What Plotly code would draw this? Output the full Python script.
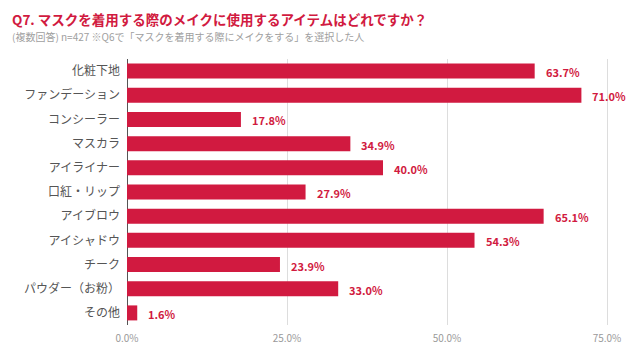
import plotly.graph_objects as go

categories = ["化粧下地", "ファンデーション", "コンシーラー", "マスカラ", "アイライナー",
              "口紅・リップ", "アイブロウ", "アイシャドウ", "チーク", "パウダー（お粉）", "その他"]
values = [63.7, 71.0, 17.8, 34.9, 40.0, 27.9, 65.1, 54.3, 23.9, 33.0, 1.6]
tick_vals = [0, 25, 50, 75]
tick_text = ["0.0%", "25.0%", "50.0%", "75.0%"]

RED = "#d11a40"
FONT = "Noto Sans CJK JP"

fig = go.Figure()
fig.add_trace(go.Bar(
    y=categories, x=values, orientation="h",
    marker=dict(color=RED, line=dict(width=0)),
    hoverinfo="skip",
))

for c, v in zip(categories, values):
    fig.add_annotation(x=v, y=c, text=f"<b>{v:.1f}%</b>", showarrow=False,
                       xanchor="left", xshift=9, yshift=-1,
                       font=dict(family=FONT, size=11, color=RED))

fig.add_annotation(x=0, y=1, xref="paper", yref="paper", xanchor="left", yanchor="middle",
                   text="<b>Q7. マスクを着用する際のメイクに使用するアイテムはどれですか？</b>",
                   showarrow=False, font=dict(family=FONT, size=13.5, color=RED),
                   xshift=-117, yshift=40)
fig.add_annotation(x=0, y=1, xref="paper", yref="paper", xanchor="left", yanchor="middle",
                   text="(複数回答) n=427 ※Q6で「マスクを着用する際にメイクをする」を選択した人",
                   showarrow=False, font=dict(family=FONT, size=10, color="#a0a0a0"),
                   xshift=-117, yshift=23)

fig.update_layout(
    width=640, height=361,
    margin=dict(l=127, r=1, t=59, b=36),
    paper_bgcolor="white", plot_bgcolor="white",
    showlegend=False,
    bargap=0.38,
    font=dict(family=FONT),
    xaxis=dict(range=[0, 80], tickvals=tick_vals, ticktext=tick_text,
               showgrid=True, gridcolor="#dddddd", gridwidth=1,
               zeroline=True, zerolinecolor="#555555", zerolinewidth=1,
               showline=False, ticks="", ticklabelstandoff=6, automargin=False,
               tickfont=dict(family=FONT, size=10, color="#9a9a9a"), fixedrange=True),
    yaxis=dict(autorange="reversed", showgrid=False, zeroline=False, showline=False,
               ticks="", ticklabelstandoff=6, automargin=False,
               tickfont=dict(family=FONT, size=12, color="#555555"), fixedrange=True),
)

fig.write_html("out.html", config={"displayModeBar": False},
               post_script="document.body.style.margin='0';document.body.style.overflow='hidden';")
